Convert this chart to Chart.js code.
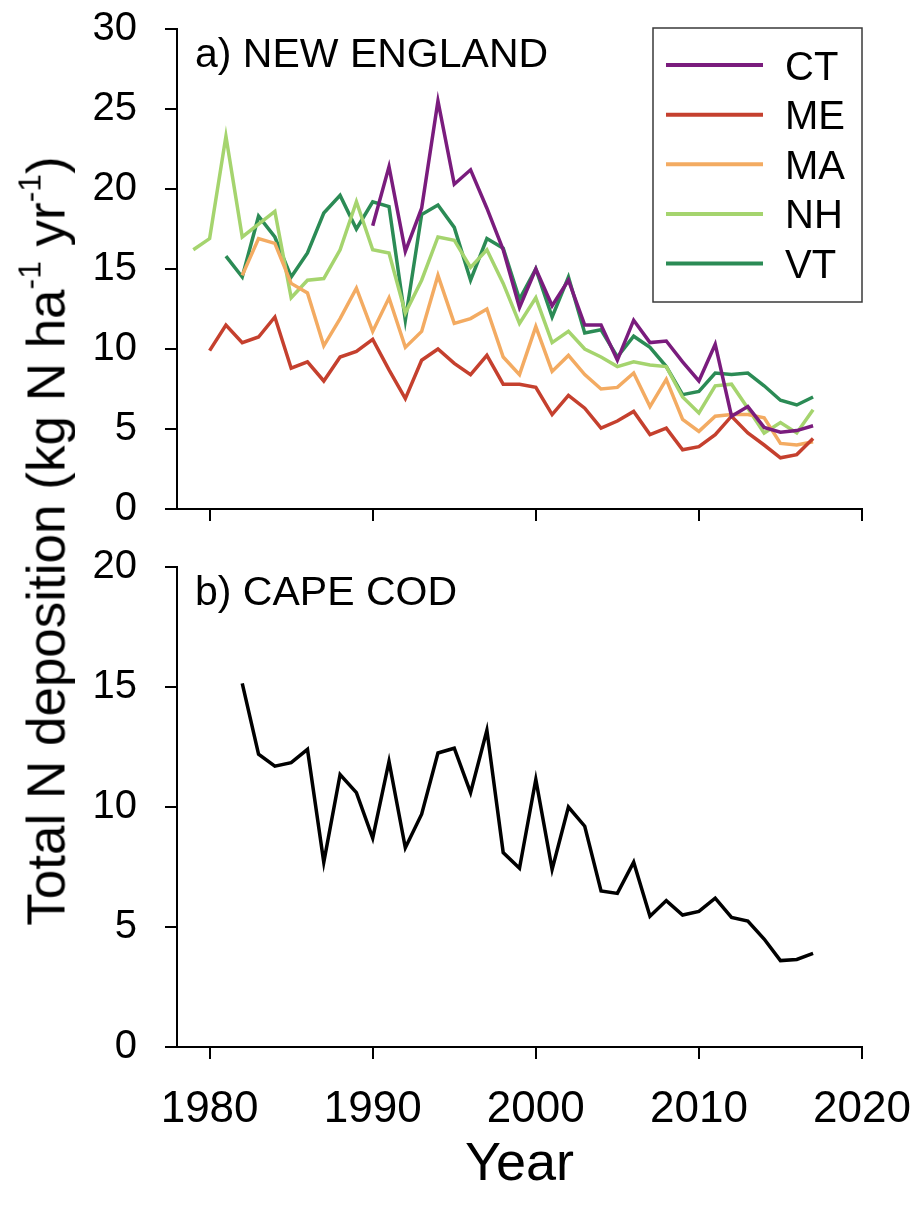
<!DOCTYPE html>
<html>
<head>
<meta charset="utf-8">
<title>Total N deposition</title>
<script src="https://cdn.jsdelivr.net/npm/chart.js@4.4.1/dist/chart.umd.min.js"></script>
<style>
  html, body { margin: 0; padding: 0; background: #fff; }
  #wrap { position: relative; width: 917px; height: 1206px; overflow: hidden; }
  #topPanel { position: absolute; left: 0; top: 0; }
  #bottomPanel { position: absolute; left: 0; top: 530px; }
  #yTitle {
    position: absolute; left: 46px; top: 541px;
    transform: translate(-50%, -50%) rotate(-90deg);
    white-space: nowrap; line-height: 1;
    font-family: 'Liberation Sans', Arial, sans-serif; font-size: 53px; color: #000;
  }
  #yTitle sup { font-size: 0.6em; line-height: 0; vertical-align: 0.75em; }
</style>
</head>
<body>
<div id="wrap">
  <canvas id="topPanel" width="917" height="530"></canvas>
  <canvas id="bottomPanel" width="917" height="676"></canvas>
  <div id="yTitle">Total N deposition (kg N ha<sup>-1</sup> yr<sup>-1</sup>)</div>
</div>
<script>
// values, one entry per year (null = no data)
const years = [1979, 1980, 1981, 1982, 1983, 1984, 1985, 1986, 1987, 1988,
  1989, 1990, 1991, 1992, 1993, 1994, 1995, 1996, 1997, 1998,
  1999, 2000, 2001, 2002, 2003, 2004, 2005, 2006, 2007, 2008,
  2009, 2010, 2011, 2012, 2013, 2014, 2015, 2016, 2017];

const ctValues = [null, null, null, null, null, null, null, null, null, null,
  null, 17.7, 21.4, 16.1, 18.8, 25.5, 20.3, 21.2, 18.8, 16.2,
  12.6, 15.0, 12.7, 14.3, 11.5, 11.5, 9.3, 11.8, 10.4, 10.5,
  9.2, 8.0, 10.3, 5.8, 6.4, 5.1, 4.8, 4.9, 5.2];

const meValues = [null, 9.9, 11.5, 10.4, 10.75, 12.0, 8.8, 9.2, 8.0, 9.5,
  9.85, 10.6, 8.7, 6.9, 9.3, 10.0, 9.1, 8.4, 9.6, 7.8,
  7.8, 7.6, 5.9, 7.1, 6.3, 5.05, 5.5, 6.1, 4.65, 5.05,
  3.7, 3.9, 4.65, 5.8, 4.75, 4.0, 3.2, 3.4, 4.4];

const maValues = [null, null, null, 14.6, 16.9, 16.6, 14.1, 13.5, 10.2, 11.9,
  13.8, 11.1, 13.2, 10.1, 11.1, 14.6, 11.6, 11.9, 12.5, 9.5,
  8.4, 11.4, 8.6, 9.6, 8.4, 7.5, 7.6, 8.5, 6.4, 8.1,
  5.6, 4.85, 5.8, 5.9, 5.9, 5.7, 4.1, 4.0, 4.2];

const nhValues = [16.2, 16.9, 23.3, 17.0, 17.8, 18.6, 13.2, 14.3, 14.4, 16.2,
  19.2, 16.2, 16.0, 12.25, 14.3, 17.0, 16.8, 15.1, 16.2, 14.1,
  11.6, 13.2, 10.4, 11.1, 10.0, 9.5, 8.9, 9.2, 9.0, 8.9,
  7.0, 6.0, 7.7, 7.8, 6.3, 4.75, 5.4, 4.75, 6.2];

const vtValues = [null, null, 15.8, 14.5, 18.3, 17.0, 14.5, 16.0, 18.5, 19.6,
  17.5, 19.2, 18.9, 11.8, 18.4, 19.0, 17.6, 14.3, 16.9, 16.3,
  13.1, 15.0, 12.0, 14.5, 11.0, 11.2, 9.5, 10.8, 10.1, 8.9,
  7.15, 7.35, 8.5, 8.4, 8.5, 7.7, 6.8, 6.5, 7.0];

const capeCodValues = [null, null, null, 15.15, 12.2, 11.7, 11.85, 12.4, 7.7, 11.35,
  10.6, 8.7, 11.9, 8.3, 9.7, 12.25, 12.45, 10.6, 13.2, 8.1,
  7.45, 11.15, 7.4, 10.0, 9.2, 6.5, 6.4, 7.7, 5.45, 6.1,
  5.5, 5.65, 6.2, 5.4, 5.25, 4.5, 3.6, 3.65, 3.9];

const stateNames = ['CT', 'ME', 'MA', 'NH', 'VT'];
const stateSeries = [ctValues, meValues, maValues, nhValues, vtValues];

const xTickValues = [1980, 1990, 2000, 2010, 2020];
const topYTicks = [0, 5, 10, 15, 20, 25, 30];
const bottomYTicks = [0, 5, 10, 15, 20];

const stateColors = ['#7a1c7d', '#c5402e', '#f3ab62', '#a5d46e', '#2b8b55'];
const FONT = "'Liberation Sans', Arial, sans-serif";

function toPoints(values) {
  return years.map((year, i) => ({ x: year, y: values[i] }));
}

// the label padding shouldn't push the plot area around, layout.padding does that
function dropScalePadding(scale) {
  scale.paddingTop = 0;
  scale.paddingBottom = 0;
  scale.paddingLeft = 0;
  scale.paddingRight = 0;
}

// panel caption, e.g. "a) NEW ENGLAND"
const panelLabel = {
  id: 'panelLabel',
  afterDraw(chart, args, opts) {
    const { ctx, chartArea } = chart;
    ctx.save();
    ctx.font = `41px ${FONT}`;
    ctx.fillStyle = '#000';
    ctx.textBaseline = 'alphabetic';
    ctx.fillText(opts.text, chartArea.left + 18, chartArea.top + 38);
    ctx.restore();
  },
};

// boxed legend inside the top panel
const insetLegend = {
  id: 'insetLegend',
  afterDraw(chart, args, opts) {
    if (!opts.show) return;
    const { ctx, chartArea } = chart;
    const boxRight = chartArea.right;
    const boxLeft = boxRight - 209;
    const boxTop = chartArea.top - 1;
    const boxHeight = 274;
    ctx.save();
    ctx.strokeStyle = '#3a3a3a';
    ctx.lineWidth = 1.5;
    ctx.strokeRect(boxLeft, boxTop, boxRight - boxLeft, boxHeight);
    ctx.font = `40px ${FONT}`;
    ctx.textBaseline = 'alphabetic';
    chart.data.datasets.forEach((ds, i) => {
      const y = boxTop + 37 + i * 49.65;
      ctx.strokeStyle = ds.borderColor;
      ctx.lineWidth = 4;
      ctx.beginPath();
      ctx.moveTo(boxLeft + 13, y);
      ctx.lineTo(boxLeft + 110, y);
      ctx.stroke();
      ctx.fillStyle = '#000';
      ctx.fillText(ds.label, boxLeft + 132, y + 14.5);
    });
    ctx.restore();
  },
};

function makeScales(yTicks, yMax, showXLabels, xAxisHeight) {
  return {
    x: {
      type: 'linear',
      min: 1978,
      max: 2020,
      afterBuildTicks(scale) {
        scale.ticks = xTickValues.map((v) => ({ value: v }));
      },
      afterFit(scale) {
        scale.height = xAxisHeight;
        dropScalePadding(scale);
      },
      border: { display: true, color: '#000', width: 2 },
      grid: { drawOnChartArea: false, drawTicks: true, tickLength: 12, color: '#000', lineWidth: 2 },
      ticks: {
        display: showXLabels,
        padding: 24,
        color: '#000',
        font: { family: FONT, size: 44 },
        maxRotation: 0,
        callback(value) {
          return String(value);
        },
      },
      title: {
        display: showXLabels,
        text: 'Year',
        color: '#000',
        font: { family: FONT, size: 54 },
        padding: { top: 0, bottom: 8 },
      },
    },
    y: {
      min: 0,
      max: yMax,
      afterBuildTicks(scale) {
        scale.ticks = yTicks.map((v) => ({ value: v }));
      },
      afterFit(scale) {
        scale.width = 177;
        dropScalePadding(scale);
      },
      border: { display: true, color: '#000', width: 2 },
      grid: { drawOnChartArea: false, drawTicks: true, tickLength: 12, color: '#000', lineWidth: 2 },
      ticks: {
        padding: 28,
        color: '#000',
        font: { family: FONT, size: 40 },
        callback(value) {
          return String(value);
        },
      },
    },
  };
}

function baseOptions(scales, label, showLegend, topPad) {
  return {
    responsive: false,
    animation: false,
    devicePixelRatio: 1,
    layout: { padding: { top: topPad, right: 55, left: 0, bottom: 0 } },
    elements: {
      point: { radius: 0, hoverRadius: 0 },
      line: { tension: 0, borderWidth: 3.5, borderJoinStyle: 'miter', borderCapStyle: 'butt' },
    },
    scales,
    plugins: {
      legend: { display: false },
      tooltip: { enabled: false },
      panelLabel: { text: label },
      insetLegend: { show: showLegend },
    },
  };
}

document.addEventListener('DOMContentLoaded', () => {
  new Chart(document.getElementById('topPanel'), {
    type: 'line',
    data: {
      datasets: stateNames.map((name, i) => ({
        label: name,
        data: toPoints(stateSeries[i]),
        borderColor: stateColors[i],
        backgroundColor: stateColors[i],
        fill: false,
      })),
    },
    options: baseOptions(makeScales(topYTicks, 30, false, 21), 'a) NEW ENGLAND', true, 29),
    plugins: [panelLabel, insetLegend],
  });

  new Chart(document.getElementById('bottomPanel'), {
    type: 'line',
    data: {
      datasets: [{
        label: 'Cape Cod',
        data: toPoints(capeCodValues),
        borderColor: '#000',
        backgroundColor: '#000',
        fill: false,
      }],
    },
    options: baseOptions(makeScales(bottomYTicks, 20, true, 159), 'b) CAPE COD', false, 37),
    plugins: [panelLabel, insetLegend],
  });
});
</script>
</body>
</html>
